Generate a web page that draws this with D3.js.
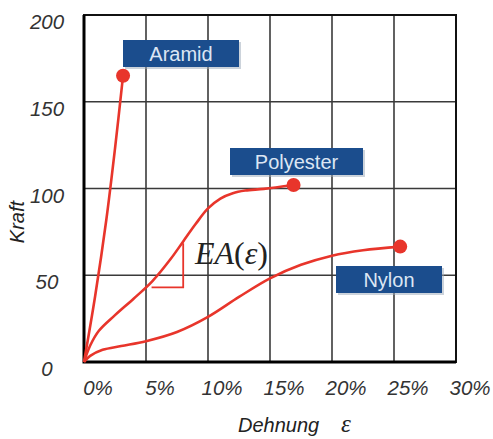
<!DOCTYPE html>
<html><head><meta charset="utf-8">
<script src="https://cdn.jsdelivr.net/npm/d3@7"></script>
<style>body{margin:0;background:#fff}svg{display:block}</style>
</head><body>
<script>
// Data (strain in %, force)
const xTicks = [0, 5, 10, 15, 20, 25, 30];
const yTicks = [0, 50, 100, 150, 200];
const aramidStrain = [0, 0.9, 1.8, 2.5, 3.15];
const aramidForce  = [0, 38, 82, 123, 165];
const polyStrain = [0, 0.5, 1.2, 2.5, 4.0, 5.5, 7.0, 8.0, 9.0, 10.0, 11.0, 12.0, 13.0, 14.5, 16.9];
const polyForce  = [0, 9.5, 18, 27, 36.5, 46.5, 59.5, 69.5, 79.5, 88.5, 94.2, 97.3, 98.8, 99.8, 102];
const nylonStrain = [0, 0.5, 1.5, 3.0, 5.0, 7.5, 10.0, 12.5, 15.0, 17.5, 20.0, 22.5, 25.5];
const nylonForce  = [0, 3.5, 7, 9.2, 12, 17.3, 26, 37.5, 48.2, 56, 61.3, 64.4, 66.5];
const seriesNames = ["Aramid", "Polyester", "Nylon"];
const triStrain = [5.45, 8.0, 8.0];
const triForce  = [43, 43, 68.4];

const W = 493, H = 439;
const svg = d3.select("body").append("svg").attr("width", W).attr("height", H);
const x = d3.scaleLinear().domain([0, 30]).range([84, 456]);
const y = d3.scaleLinear().domain([0, 200]).range([362, 15]);

const red = "#e8352b", grid = "#3a3a3a";

// grid
svg.append("g").selectAll("line").data(xTicks.slice(1, -1)).join("line")
  .attr("x1", d => x(d)).attr("x2", d => x(d)).attr("y1", y(0)).attr("y2", y(200))
  .attr("stroke", grid).attr("stroke-width", 1.6);
svg.append("g").selectAll("line").data(yTicks.slice(1, -1)).join("line")
  .attr("y1", d => y(d)).attr("y2", d => y(d)).attr("x1", x(0)).attr("x2", x(30))
  .attr("stroke", grid).attr("stroke-width", 1.6);
// frame
svg.append("rect").attr("x", x(0)).attr("y", y(200)).attr("width", x(30) - x(0)).attr("height", y(0) - y(200))
  .attr("fill", "none").attr("stroke", "#111").attr("stroke-width", 2);
svg.append("path").attr("d", `M${x(0)},${y(200)}V${y(0)}H${x(30)}`)
  .attr("fill", "none").attr("stroke", "#000").attr("stroke-width", 3);

// tick labels
svg.append("g").selectAll("text").data(xTicks).join("text")
  .attr("x", d => x(d) + 14).attr("y", 388).attr("dy", "0.35em")
  .attr("text-anchor", "middle").attr("font-family", "Liberation Sans, Arial, sans-serif")
  .attr("font-style", "italic").attr("font-size", 20.5).attr("fill", "#333")
  .text(d => d + "%");
svg.append("g").selectAll("text").data(yTicks).join("text")
  .attr("x", 47).attr("y", d => y(d) + 7).attr("dy", "0.35em")
  .attr("text-anchor", "middle").attr("font-family", "Liberation Sans, Arial, sans-serif")
  .attr("font-style", "italic").attr("font-size", 20.5).attr("fill", "#333")
  .text(d => d);

// axis titles
svg.append("text").attr("transform", "translate(17,222) rotate(-90)").attr("dy", "0.35em")
  .attr("text-anchor", "middle").attr("font-family", "Liberation Sans, Arial, sans-serif")
  .attr("font-style", "italic").attr("font-size", 20).attr("fill", "#222").text("Kraft");
const xt = svg.append("text").attr("x", 238).attr("y", 425).attr("dy", "0.35em")
  .attr("font-family", "Liberation Sans, Arial, sans-serif")
  .attr("font-style", "italic").attr("font-size", 20).attr("fill", "#222");
xt.append("tspan").text("Dehnung");
xt.append("tspan").attr("x", 341).attr("font-family", "Liberation Serif, serif").attr("font-size", 25).text("ε");

// curves
const series = [
  {name: seriesNames[0], xs: aramidStrain, ys: aramidForce},
  {name: seriesNames[1], xs: polyStrain, ys: polyForce},
  {name: seriesNames[2], xs: nylonStrain, ys: nylonForce}
];
const line = d3.line().x(d => x(d[0])).y(d => y(d[1])).curve(d3.curveCatmullRom.alpha(0.5));
series.forEach(s => {
  const pts = s.xs.map((v, i) => [v, s.ys[i]]);
  svg.append("path").attr("d", line(pts)).attr("fill", "none")
    .attr("stroke", red).attr("stroke-width", 2.6).attr("stroke-linejoin", "round");
  const last = pts[pts.length - 1];
  svg.append("circle").attr("cx", x(last[0])).attr("cy", y(last[1])).attr("r", 7).attr("fill", red);
});

// slope triangle
svg.append("path").attr("d", d3.line().x((d) => x(d[0])).y(d => y(d[1]))(triStrain.map((v, i) => [v, triForce[i]])))
  .attr("fill", "none").attr("stroke", red).attr("stroke-width", 1.8);

// EA(eps) label
const ea = svg.append("text").attr("x", 195).attr("y", 264)
  .attr("font-family", "Liberation Serif, Times New Roman, serif").attr("font-size", 32).attr("fill", "#222");
ea.append("tspan").attr("font-style", "italic").text("EA");
ea.append("tspan").text("(");
ea.append("tspan").attr("font-style", "italic").text("ε");
ea.append("tspan").text(")");

// label boxes
const boxes = [
  {name: seriesNames[0], x0: 123, y0: 40, w: 116},
  {name: seriesNames[1], x0: 230, y0: 148, w: 133},
  {name: seriesNames[2], x0: 336, y0: 266, w: 106}
];
boxes.forEach(b => {
  svg.append("rect").attr("x", b.x0 + 2).attr("y", b.y0 + 2).attr("width", b.w).attr("height", 27)
    .attr("fill", "#9aa7b8").attr("opacity", 0.5);
  svg.append("rect").attr("x", b.x0).attr("y", b.y0).attr("width", b.w).attr("height", 27).attr("fill", "#1b4d8d");
  svg.append("text").attr("x", b.x0 + b.w / 2).attr("y", b.y0 + 14).attr("dy", "0.35em")
    .attr("text-anchor", "middle").attr("font-family", "Liberation Sans, Arial, sans-serif")
    .attr("font-size", 20).attr("fill", "#dce6f4").text(b.name);
});
</script>
</body></html>
